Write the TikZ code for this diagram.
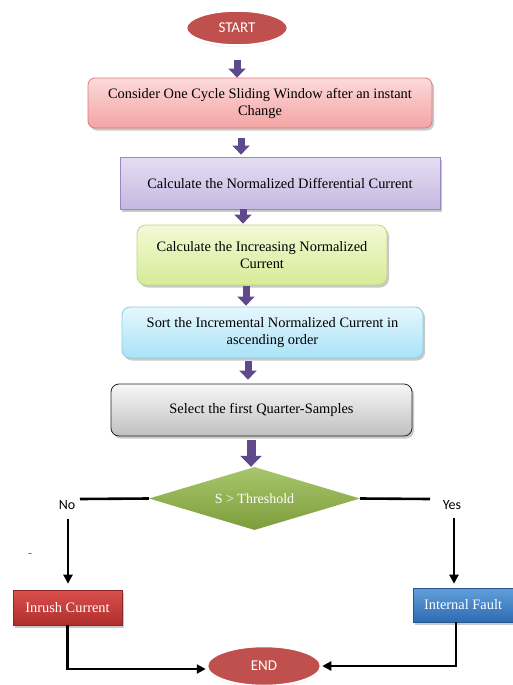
\documentclass[tikz,border=0pt]{standalone}
\usepackage{fontspec}
\setmainfont{Liberation Serif}
\newfontfamily\calfont{Carlito}
\usetikzlibrary{shapes.geometric,arrows.meta,shadows,calc}
\definecolor{blkpurple}{HTML}{5E4A8A}
\definecolor{ovalred}{HTML}{C0504D}
\definecolor{b1top}{HTML}{FCDADA}\definecolor{b1bot}{HTML}{F4A3A3}\definecolor{b1bd}{HTML}{E07A7A}
\definecolor{b2top}{HTML}{E4DEF2}\definecolor{b2bot}{HTML}{C6B8E2}\definecolor{b2bd}{HTML}{9A86C4}
\definecolor{b3top}{HTML}{F4F9D6}\definecolor{b3bot}{HTML}{D6EB96}\definecolor{b3bd}{HTML}{C2D486}
\definecolor{b4top}{HTML}{E6F7FE}\definecolor{b4bot}{HTML}{A9E2F7}\definecolor{b4bd}{HTML}{86CDEB}
\definecolor{dtop}{HTML}{A8C66C}\definecolor{dbot}{HTML}{7D9D3B}
\definecolor{rtop}{HTML}{DA504C}\definecolor{rbot}{HTML}{AE2E2C}
\definecolor{btop}{HTML}{619FDB}\definecolor{bbot}{HTML}{2F6BB2}
\tikzset{
  boxbase/.style={draw, line width=0.8pt, align=center, inner sep=2pt,
    font=\fontsize{14.4}{17}\selectfont,
    drop shadow={shadow xshift=2pt, shadow yshift=-2.5pt, opacity=0.35, fill=black!60}},
  oval/.style={ellipse, draw=white, line width=2.5pt, fill=ovalred, text=white,
    font=\calfont\fontsize{15}{17}\selectfont, inner sep=0pt,
    drop shadow={shadow xshift=0pt, shadow yshift=-1.5pt, opacity=0.25, fill=black!50}},
  blk/.style={draw=blkpurple, line width=7pt, -{Triangle[width=17pt,length=9pt]}},
  bigblk/.style={draw=blkpurple, line width=9pt, -{Triangle[width=21pt,length=11pt]}},
  conn/.style={draw=black, line width=2.6pt},
  connarrow/.style={conn, -{Triangle[width=9pt,length=9pt]}},
  lbl/.style={font=\calfont\fontsize{14}{16}\selectfont, inner sep=1pt},
  result/.style={draw, line width=0.6pt, text=white, font=\fontsize{14.4}{16}\selectfont,
    drop shadow={shadow xshift=2pt, shadow yshift=-2.5pt, opacity=0.35, fill=black!60}}
}
\begin{document}
\begin{tikzpicture}[x=1pt,y=-1pt]
\useasboundingbox (0,0) rectangle (513,685);
\fill[white] (0,0) rectangle (513,685);

\node[oval, minimum width=102pt, minimum height=35pt] (start) at (237,28) {START};

\node[boxbase, rounded corners=7pt, draw=b1bd, top color=b1top, bottom color=b1bot,
  minimum width=344pt, minimum height=50pt] (b1) at (260,103)
  {Consider One Cycle Sliding Window after an instant\\Change};

\node[boxbase, draw=b2bd, top color=b2top, bottom color=b2bot,
  minimum width=320pt, minimum height=52pt] (b2) at (280,183)
  {Calculate the Normalized Differential Current};

\node[boxbase, rounded corners=9pt, draw=b3bd, top color=b3top, bottom color=b3bot,
  minimum width=250pt, minimum height=60pt] (b3) at (262,255)
  {Calculate the Increasing Normalized\\Current};

\node[boxbase, rounded corners=8pt, draw=b4bd, top color=b4top, bottom color=b4bot,
  minimum width=301pt, minimum height=51pt] (b4) at (272.5,332.5)
  {Sort the Incremental Normalized Current in\\ascending order};

\node[boxbase, rounded corners=8pt, draw=black!85, top color=black!3, bottom color=black!25,
  minimum width=301pt, minimum height=52pt] (b5) at (261.5,410)
  {Select the first Quarter-Samples};

\node[diamond, aspect=3.35, minimum width=211pt, minimum height=63pt, inner sep=0pt,
  top color=dtop, bottom color=dbot,
  text=white, font=\fontsize{14}{16}\selectfont] (dec) at (254.5,498.5) {S > Threshold};

\node[result, draw=rbot!80!black, top color=rtop, bottom color=rbot,
  minimum width=109pt, minimum height=35pt] (inrush) at (67.5,607.5) {Inrush Current};

\node[result, draw=bbot!80!black, top color=btop, bottom color=bbot,
  minimum width=100pt, minimum height=34pt] (fault) at (463,605) {Internal Fault};

\node[oval, minimum width=114pt, minimum height=40pt] (end) at (264,666) {END};

\node[lbl] (no) at (67,505) {No};
\node[lbl] (yes) at (452,505) {Yes};
\node[lbl, font=\calfont\fontsize{9}{10}\selectfont] (dash) at (30,555) {–};

% block arrows
\draw[blk] ([yshift=-13pt]start.south) -- (start.south |- b1.north);
\draw[blk] ([xshift=-19pt,yshift=-10pt]b1.south) -- ([xshift=-39pt,yshift=2pt]b2.north);
\draw[blk] ([xshift=-37pt]b2.south) -- ([xshift=-19pt,yshift=1pt]b3.north);
\draw[blk] ([xshift=-16pt,yshift=-1pt]b3.south) -- ([xshift=-26.5pt,yshift=1pt]b4.north);
\draw[blk] ([xshift=-24.5pt,yshift=-3pt]b4.south) -- ([xshift=-13.5pt,yshift=4pt]b5.north);
\draw[bigblk] ([xshift=-10.5pt,yshift=-4pt]b5.south) -- ([xshift=-3.5pt]dec.north);

% decision branches
\coordinate (nol) at (80,499);
\coordinate (yesr) at (430,499);
\draw[conn] (dec.west) -- (nol);
\draw[conn] (dec.east) -- (yesr);
\draw[connarrow] ([xshift=1pt,yshift=-8pt]no.south) -- ([xshift=0.5pt,yshift=6pt]inrush.north);
\draw[connarrow] ([xshift=2pt,yshift=-7pt]yes.south) -- ([xshift=-9pt,yshift=4pt]fault.north);

% to END
\draw[connarrow] (inrush.south) |- ([yshift=-3pt]end.west);
\draw[connarrow] ([xshift=-7pt]fault.south) |- (end.east);
\end{tikzpicture}
\end{document}
